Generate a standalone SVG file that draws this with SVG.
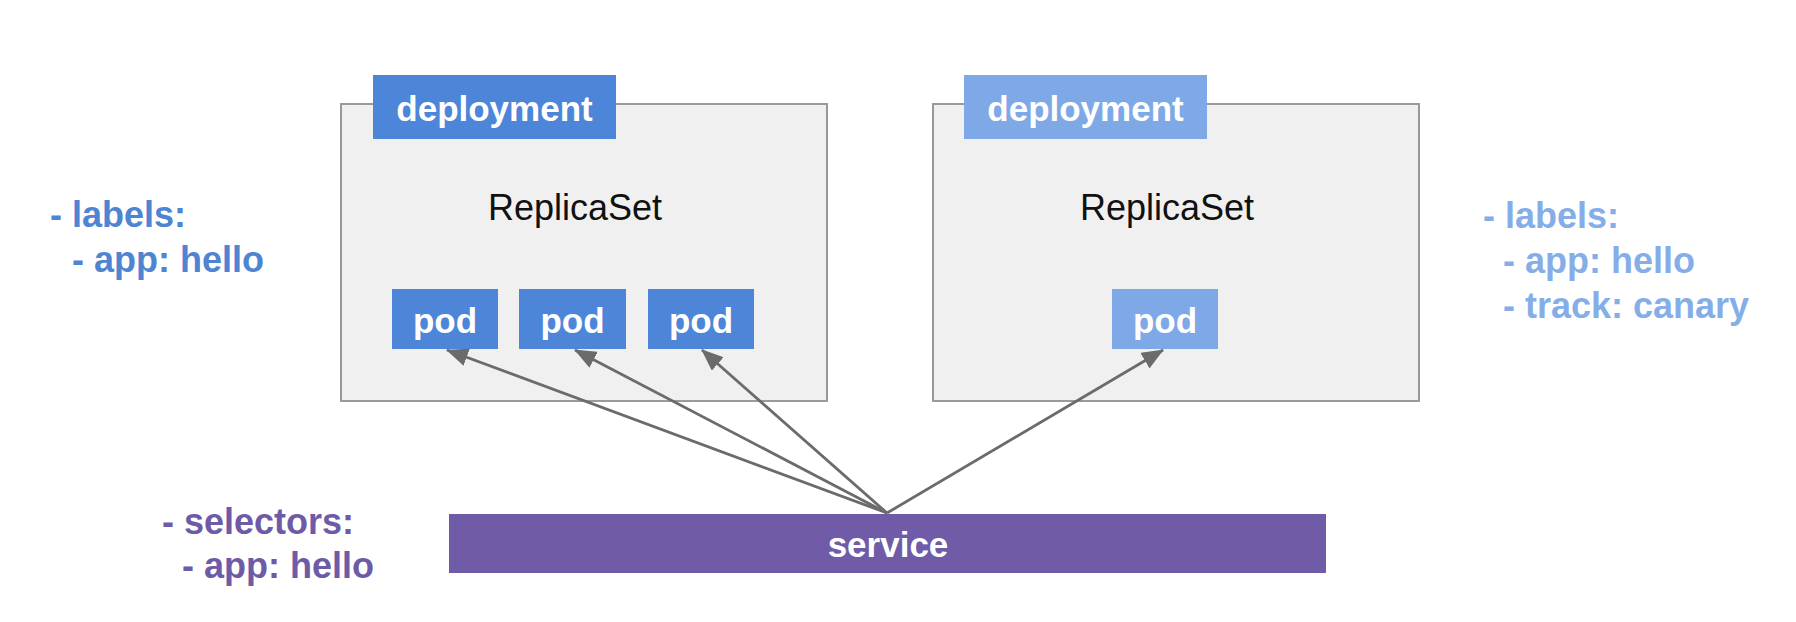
<svg xmlns="http://www.w3.org/2000/svg" width="1796" height="622" viewBox="0 0 1796 622">
<style>
.box{fill:#f0f0f0;stroke:#9a9a9a;stroke-width:2}
.dark{fill:#4d86d9}
.light{fill:#7ea9e6}
.wt{font-family:"Liberation Sans",Arial,sans-serif;font-weight:bold;font-size:35px;fill:#ffffff;text-anchor:middle}
.rs{font-family:"Liberation Sans",Arial,sans-serif;font-size:36px;fill:#111111;text-anchor:middle}
.lab{font-family:"Liberation Sans",Arial,sans-serif;font-weight:bold;font-size:36px}
.conn{stroke:#6b6b6b;stroke-width:2.8;fill:none;marker-end:url(#arr)}
</style>
<defs>
<marker id="arr" markerUnits="userSpaceOnUse" markerWidth="22" markerHeight="18" refX="21" refY="9" orient="auto">
<path d="M0,0 L22,9 L0,18 z" fill="#6b6b6b"/>
</marker>
</defs>
<rect width="1796" height="622" fill="#ffffff"/>

<g id="deployment-left">
<rect class="box" x="341" y="104" width="486" height="297"/>
<rect class="dark" x="373" y="75" width="243" height="64"/>
<text class="wt" x="494.5" y="121">deployment</text>
<text class="rs" x="575" y="220">ReplicaSet</text>
</g>
<g id="pod-1"><rect class="dark" x="392" y="289" width="106" height="60"/><text class="wt" x="445" y="333">pod</text></g>
<g id="pod-2"><rect class="dark" x="519" y="289" width="107" height="60"/><text class="wt" x="572.5" y="333">pod</text></g>
<g id="pod-3"><rect class="dark" x="648" y="289" width="106" height="60"/><text class="wt" x="701" y="333">pod</text></g>

<g id="deployment-right">
<rect class="box" x="933" y="104" width="486" height="297"/>
<rect class="light" x="964" y="75" width="243" height="64"/>
<text class="wt" x="1085.5" y="121">deployment</text>
<text class="rs" x="1167" y="220">ReplicaSet</text>
</g>
<g id="pod-4"><rect class="light" x="1112" y="289" width="106" height="60"/><text class="wt" x="1165" y="333">pod</text></g>

<g id="service">
<rect x="449" y="514" width="877" height="59" fill="#6f5ba7"/>
<text class="wt" x="888" y="557">service</text>
</g>

<g id="labels-left" class="lab" fill="#4f84d3">
<text x="50" y="227">- labels:</text>
<text x="72" y="272">- app: hello</text>
</g>
<g id="labels-right" class="lab" fill="#85aee8">
<text x="1483" y="228">- labels:</text>
<text x="1503" y="273">- app: hello</text>
<text x="1503" y="318">- track: canary</text>
</g>
<g id="selectors" class="lab" fill="#6e5ba8">
<text x="162" y="534">- selectors:</text>
<text x="182" y="578">- app: hello</text>
</g>

<g id="connectors">
<line class="conn" x1="887" y1="513" x2="447" y2="350"/>
<line class="conn" x1="887" y1="513" x2="575" y2="350"/>
<line class="conn" x1="887" y1="513" x2="702" y2="350"/>
<line class="conn" x1="887" y1="513" x2="1163" y2="350"/>
</g>
</svg>
